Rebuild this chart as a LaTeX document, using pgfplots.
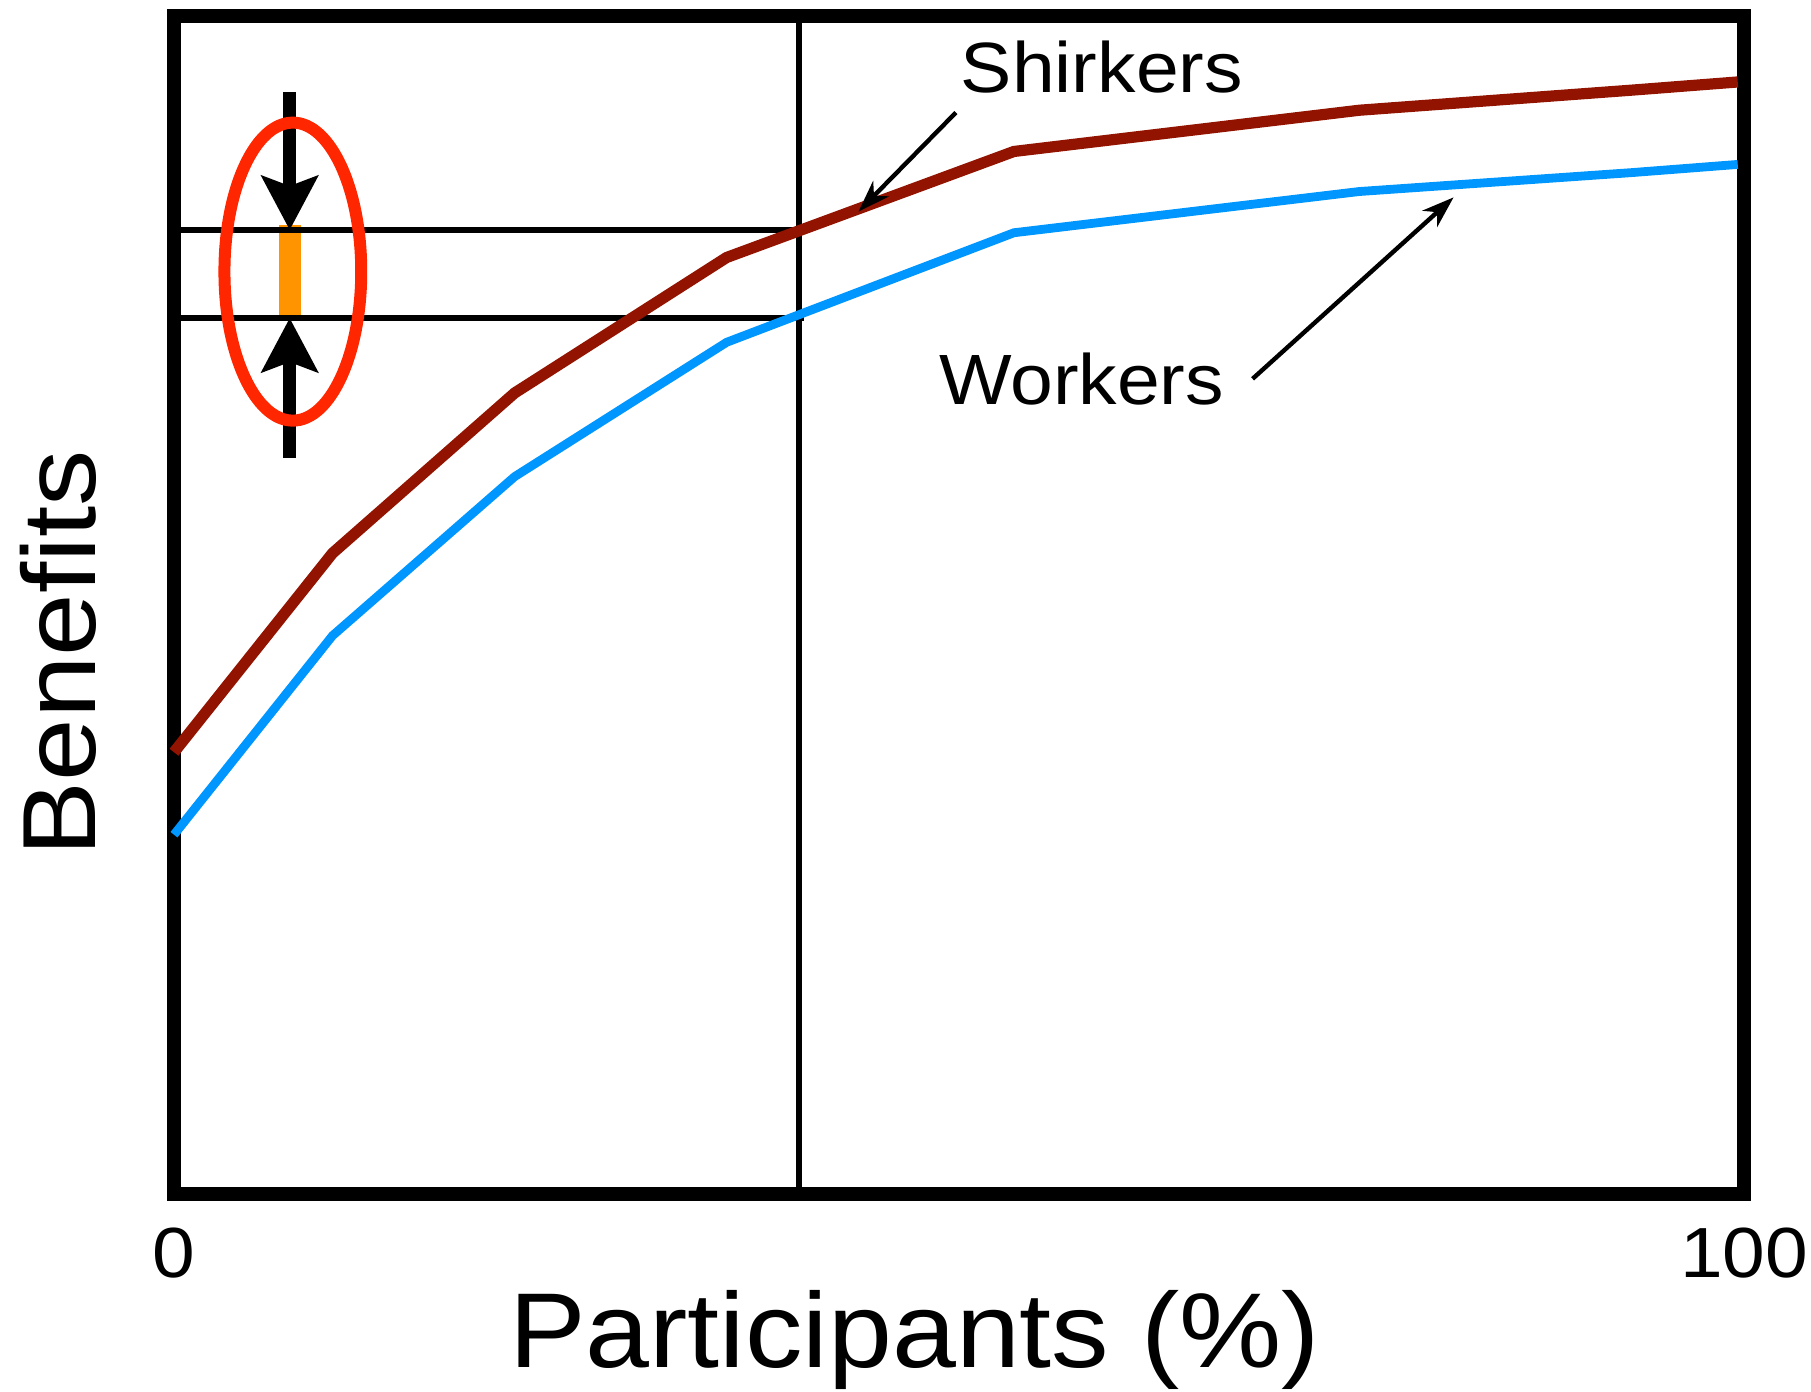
\documentclass[border=0pt]{standalone}
\usepackage{fontspec}
\setmainfont{Liberation Sans}
\newfontfamily\widefont{Liberation Sans}[FakeStretch=1.08]
\usepackage{pgfplots}
\pgfplotsset{compat=1.18}
\usepackage{pgfplotstable}
\usetikzlibrary{arrows.meta}
\definecolor{shirk}{RGB}{146,19,0}
\definecolor{work}{RGB}{0,150,255}
\definecolor{barc}{RGB}{255,147,0}
\definecolor{ellc}{RGB}{255,38,0}

\pgfplotstableread{
x y
0 37.5
10.1 54.4
21.7 68.0
35.2 79.5
53.5 88.5
75.5 92.0
92.8 93.7
99.6 94.4
}\shirkers

\pgfplotstableread{
x y
0 30.5
10.1 47.4
21.7 60.9
35.2 72.3
53.5 81.6
75.5 85.1
92.8 86.7
99.6 87.4
}\workers

\begin{document}
\begin{tikzpicture}
\useasboundingbox (-43.5pt,-49.5pt) rectangle (409.25pt,298.5pt);
\begin{axis}[
  at={(0pt,0pt)}, anchor=south west,
  scale only axis, width=392.5pt, height=294.5pt,
  xmin=0, xmax=100, ymin=0, ymax=100,
  axis line style={line width=3.5pt},
  xtick={0,100}, ytick=\empty,
  xtick style={draw=none},
  /pgf/number format/assume math mode=true,
  xticklabel style={anchor=base, yshift=-20.75pt, inner sep=0pt, font=\widefont\fontsize{17.75}{20}\selectfont},
  xlabel={Participants (\%)},
  xlabel style={at={(axis description cs:0.4717,-0.1477)}, anchor=base, inner sep=0pt, font=\widefont\fontsize{26.6}{30}\selectfont},
  ylabel={Benefits},
  ylabel style={at={(axis description cs:-0.0503,0.459)}, anchor=base, inner sep=0pt, rotate=0, font=\widefont\fontsize{26}{30}\selectfont},
  clip=false,
]
% guide lines
\draw[barc, line width=5.5pt] (axis cs:7.37,74.6) -- (axis cs:7.37,82.3);
\draw[black, line width=1.4pt] (axis cs:39.8,0) -- (axis cs:39.8,100);
\draw[black, line width=1.4pt] (axis cs:0,81.83) -- (axis cs:40.1,81.83);
\draw[black, line width=1.4pt] (axis cs:0,74.36) -- (axis cs:40.1,74.36);

\addplot[shirk, line width=2.8pt, no markers] table[x=x,y=y] {\shirkers};
\addplot[work, line width=2.2pt, no markers] table[x=x,y=y] {\workers};

% arrows in the ellipse
\draw[line width=3.25pt, -{Stealth[length=13.5pt, width=14pt, inset=2.5pt]}] (axis cs:7.37,93.55) -- (axis cs:7.37,81.83);
\draw[line width=3.25pt, -{Stealth[length=13.5pt, width=14pt, inset=2.5pt]}] (axis cs:7.37,62.5) -- (axis cs:7.37,74.36);
\draw[ellc, line width=3pt] (axis cs:7.57,78.3) ellipse [x radius=17.1pt, y radius=37.25pt];

% labels
\node[anchor=base, inner sep=0pt, font=\widefont\fontsize{17.8}{20}\selectfont] at (axis cs:59.1,93.5) {Shirkers};
\node[anchor=base, inner sep=0pt, font=\widefont\fontsize{17.8}{20}\selectfont] at (axis cs:57.8,67.0) {Workers};
\draw[line width=1.1pt, -{Stealth[length=8pt, width=5.5pt, inset=2.5pt]}] (axis cs:49.8,91.8) -- (axis cs:43.6,83.4);
\draw[line width=1.1pt, -{Stealth[length=8pt, width=5.5pt, inset=2.5pt]}] (axis cs:68.7,69.2) -- (axis cs:81.5,84.6);
\end{axis}
\end{tikzpicture}
\end{document}
